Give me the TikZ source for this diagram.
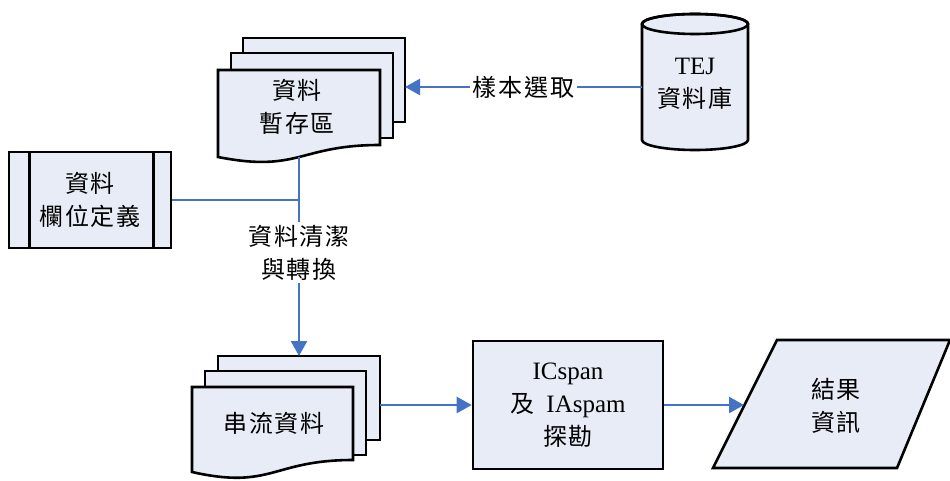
\documentclass[tikz,border=0pt]{standalone}
\usepackage{fontspec}
\setmainfont{Liberation Serif}
\newfontfamily\cjkfont[LetterSpace=8,Scale=0.96]{Noto Sans CJK TC}
\usetikzlibrary{arrows.meta}
\definecolor{boxfill}{RGB}{231,236,246}
\definecolor{flowblue}{RGB}{68,114,196}
\newcommand\cj[1]{{\cjkfont #1}}

\tikzset{
  shapefill/.style={fill=boxfill, draw=black, line width=2.6pt, line join=miter},
  flow/.style={draw=flowblue, line width=2.4pt},
  arrowflow/.style={flow, -{Triangle[length=15pt,width=16pt]}},
  lbl/.style={align=center, inner sep=2pt, font=\fontsize{25}{33}\selectfont},
  tag/.style={lbl, fill=white, inner sep=3pt},
}

\begin{document}
\begin{tikzpicture}[x=1pt,y=-1pt]
\useasboundingbox[fill=white] (0,0) rectangle (950,481);

% --- staging area: stack of three sheets ---
\filldraw[shapefill] (243,38) rectangle (405,122);
\filldraw[shapefill] (231,53) rectangle (393,138);
\filldraw[shapefill] (218,157) -- (218,70) -- (380,70) -- (380,145)
  .. controls (299,145) and (299,173) .. (218,157) -- cycle;
\node[lbl] (store) at (297,107) {\cj{資料}\\\cj{暫存區}};
\coordinate (storeIn) at (405,87);
\coordinate (storeOut) at (299,157);

% --- TEJ database cylinder ---
\filldraw[shapefill] (642,24) -- (642,140) arc[start angle=180,end angle=0,x radius=53,y radius=10]
  -- (748,24) arc[start angle=0,end angle=-180,x radius=53,y radius=10] -- cycle;
\draw[line width=2.6pt] (695,24) ellipse[x radius=53,y radius=10];
\node[lbl] (tej) at (695,84) {TEJ\\\cj{資料庫}};
\coordinate (tejW) at (642,87);

% --- field definition box ---
\node[shapefill, minimum width=162pt, minimum height=96pt, inner sep=0pt] (fields) at (90,200) {};
\draw[line width=2.6pt] ([xshift=22pt]fields.north west) -- ([xshift=22pt]fields.south west);
\draw[line width=2.6pt] ([xshift=-19pt]fields.north east) -- ([xshift=-19pt]fields.south east);
\node[lbl] (fieldtxt) at (fields) {\cj{資料}\\\cj{欄位定義}};

% --- stream data: stack of three sheets ---
\filldraw[shapefill] (218,356) rectangle (380,440);
\filldraw[shapefill] (205,371) rectangle (366,455);
\filldraw[shapefill] (192,472) -- (192,387) -- (353,387) -- (353,460)
  .. controls (272,460) and (272,490) .. (192,472) -- cycle;
\node[lbl] (stream) at (274,423) {\cj{串流資料}};
\coordinate (streamIn) at (299,356);
\coordinate (streamE) at (380,405);

% --- mining process ---
\node[shapefill, lbl, minimum width=190pt, minimum height=128pt] (mine) at (568,405)
  {ICspan\\\cj{及}\hspace{12pt}IAspam\\\cj{探勘}};

% --- result output ---
\filldraw[shapefill] (713,468) -- (777,340) -- (950,340) -- (897,468) -- cycle;
\node[lbl] (result) at (836,406) {\cj{結果}\\\cj{資訊}};
\coordinate (resultW) at (744,405);

% --- connectors ---
\draw[arrowflow] (tejW) -- node[tag] (pick) {\cj{樣本選取}} (storeIn);
\draw[flow] (fields.east) -- (fields.east -| storeOut);
\draw[arrowflow] (storeOut) -- node[tag, pos=0.48] (clean) {\cj{資料清潔}\\\cj{與轉換}} (streamIn);
\draw[arrowflow] (streamE) -- (mine.west);
\draw[arrowflow] (mine.east) -- (resultW);
\end{tikzpicture}
\end{document}
